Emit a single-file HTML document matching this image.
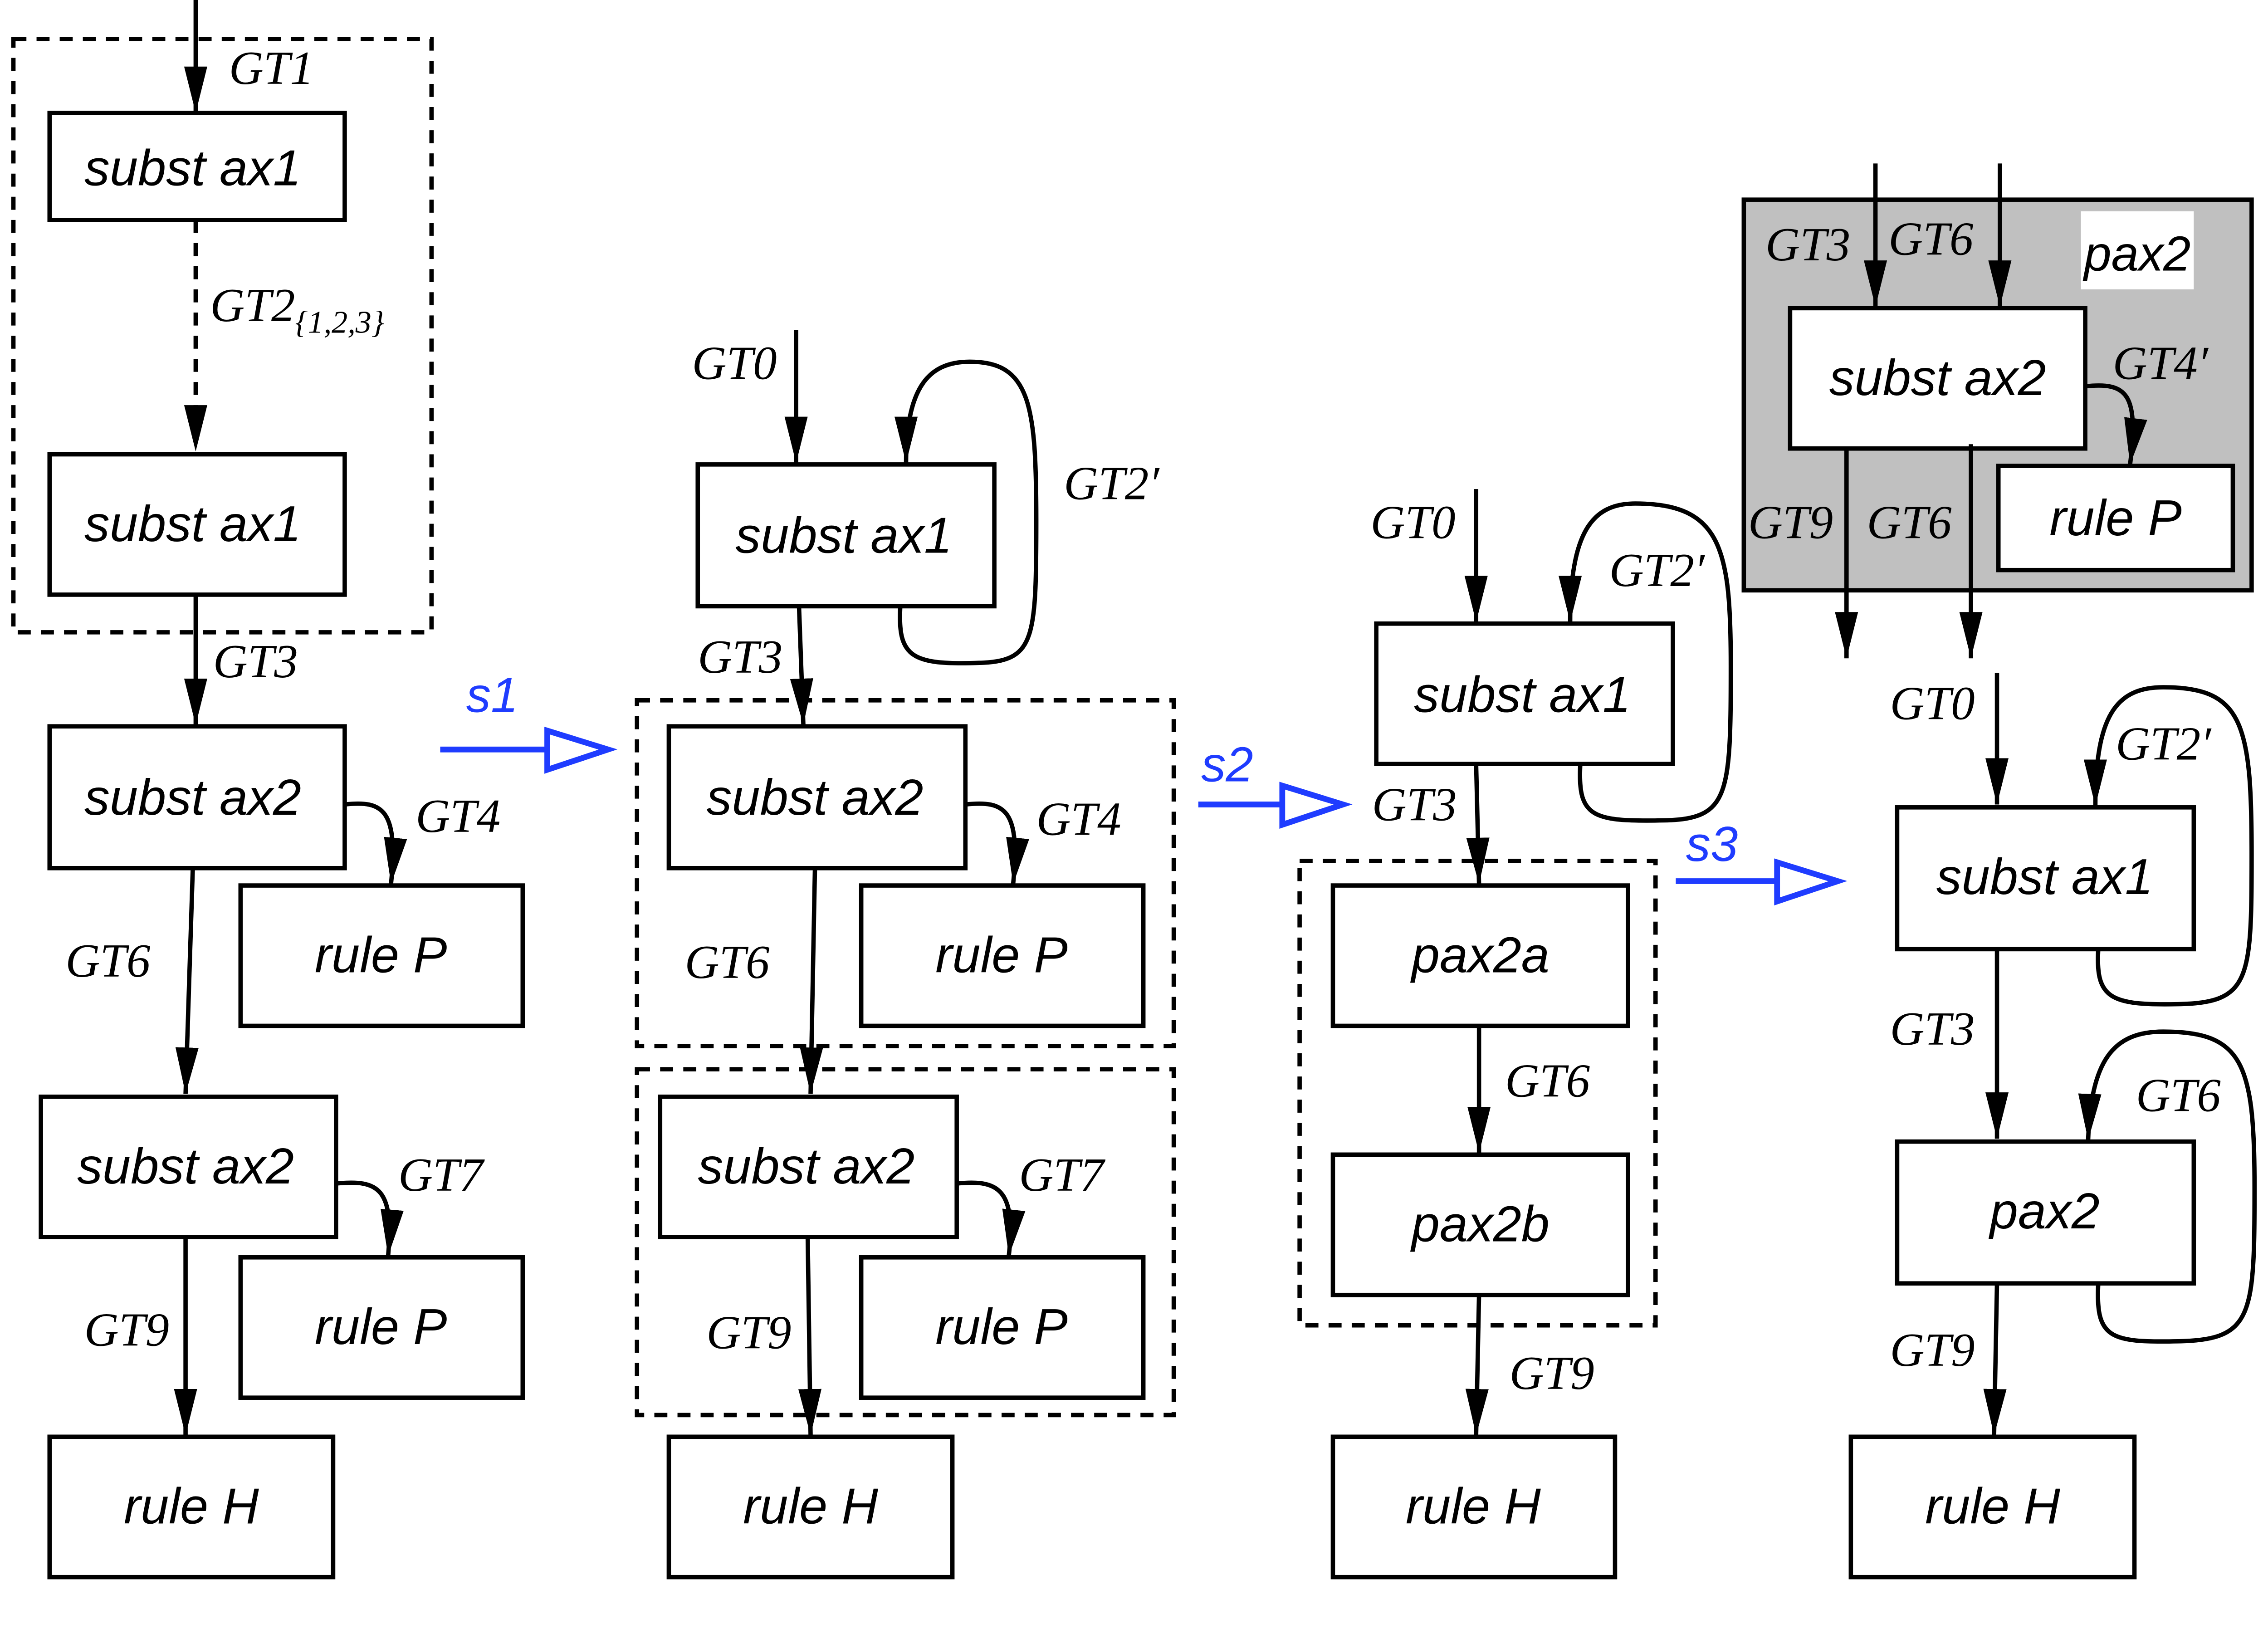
<!DOCTYPE html>
<html><head><meta charset="utf-8"><style>
html,body{margin:0;padding:0;background:#fff;overflow:hidden;}
svg{display:block;}
.b{fill:#fff;stroke:#000;stroke-width:3;}
.l{stroke:#000;stroke-width:3;fill:none;}
.d{stroke:#000;stroke-width:3;fill:none;stroke-dasharray:9,7;}
.t{font-family:"Liberation Sans",sans-serif;font-style:italic;font-size:35px;text-anchor:middle;}
.g{font-family:"Liberation Serif",serif;font-style:italic;font-size:33px;}
.s{font-family:"Liberation Sans",sans-serif;font-style:italic;font-size:34px;fill:#1f3cff;}
.bl{stroke:#1f3cff;stroke-width:4;fill:none;}
</style></head><body>
<svg width="5188" height="3633" viewBox="0 0 1626 1139" xmlns="http://www.w3.org/2000/svg">
<defs>
<marker id="h" markerWidth="32" markerHeight="16" refX="32" refY="8" orient="auto" markerUnits="userSpaceOnUse"><path d="M0,0 L32,8 L0,16 Z" fill="#000"/></marker></defs>

<!-- Column 1 -->
<rect class="d" x="9" y="27" width="289" height="410"/>
<line class="l" x1="135" y1="0" x2="135" y2="78" marker-end="url(#h)"/>
<text class="g" x="158" y="58">GT1</text>
<rect class="b" x="34" y="78" width="204" height="74"/><text class="t" x="133" y="128">subst ax1</text>
<line class="d" x1="135" y1="152" x2="135" y2="312" marker-end="url(#h)"/>
<text class="g" x="145" y="222">GT2<tspan font-size="22" dy="8">{1,2,3}</tspan></text>
<rect class="b" x="34" y="314" width="204" height="97"/><text class="t" x="133" y="374">subst ax1</text>
<line class="l" x1="135" y1="411" x2="135" y2="501" marker-end="url(#h)"/>
<text class="g" x="147" y="468">GT3</text>
<rect class="b" x="34" y="502" width="204" height="98"/><text class="t" x="133" y="563">subst ax2</text>
<path class="l" d="M238,556 C265,553 275,560 270,611" marker-end="url(#h)"/>
<text class="g" x="287" y="575">GT4</text>
<rect class="b" x="166" y="612" width="195" height="97"/><text class="t" x="263" y="672">rule P</text>
<line class="l" x1="133" y1="600" x2="128" y2="756" marker-end="url(#h)"/>
<text class="g" x="45" y="675">GT6</text>
<rect class="b" x="28" y="758" width="204" height="97"/><text class="t" x="128" y="818">subst ax2</text>
<path class="l" d="M232,818 C262,815 272,822 268,868" marker-end="url(#h)"/>
<text class="g" x="275" y="823">GT7</text>
<rect class="b" x="166" y="869" width="195" height="97"/><text class="t" x="263" y="929">rule P</text>
<line class="l" x1="128" y1="855" x2="128" y2="992" marker-end="url(#h)"/>
<text class="g" x="58" y="930">GT9</text>
<rect class="b" x="34" y="993" width="196" height="97"/><text class="t" x="132" y="1053">rule H</text>

<!-- s1 -->
<text class="s" x="322" y="492">s1</text>
<line class="bl" x1="304" y1="518" x2="378" y2="518"/>
<path class="bl" d="M378,505 L420,518 L378,532 Z" fill="#fff"/>

<!-- Column 2 -->
<line class="l" x1="550" y1="228" x2="550" y2="320" marker-end="url(#h)"/>
<text class="g" x="478" y="262">GT0</text>
<rect class="b" x="482" y="321" width="205" height="98"/><text class="t" x="583" y="382">subst ax1</text>
<path class="l" d="M622,419 C620,455 630,460 680,458 C715,456 716,440 716,360 C716,280 712,250 670,250 C640,250 626,270 626,320" marker-end="url(#h)"/>
<text class="g" x="735" y="345">GT2′</text>
<line class="l" x1="552" y1="419" x2="555" y2="501" marker-end="url(#h)"/>
<text class="g" x="482" y="465">GT3</text>
<rect class="d" x="440" y="484" width="371" height="239"/>
<rect class="b" x="462" y="502" width="205" height="98"/><text class="t" x="563" y="563">subst ax2</text>
<path class="l" d="M667,556 C695,553 705,560 700,611" marker-end="url(#h)"/>
<text class="g" x="716" y="577">GT4</text>
<rect class="b" x="595" y="612" width="195" height="97"/><text class="t" x="692" y="672">rule P</text>
<line class="l" x1="563" y1="600" x2="560" y2="756" marker-end="url(#h)"/>
<text class="g" x="473" y="676">GT6</text>
<rect class="d" x="440" y="739" width="371" height="239"/>
<rect class="b" x="456" y="758" width="205" height="97"/><text class="t" x="557" y="818">subst ax2</text>
<path class="l" d="M661,818 C690,815 702,822 697,868" marker-end="url(#h)"/>
<text class="g" x="704" y="823">GT7</text>
<rect class="b" x="595" y="869" width="195" height="97"/><text class="t" x="692" y="929">rule P</text>
<line class="l" x1="558" y1="855" x2="560" y2="992" marker-end="url(#h)"/>
<text class="g" x="488" y="932">GT9</text>
<rect class="b" x="462" y="993" width="196" height="97"/><text class="t" x="560" y="1053">rule H</text>

<!-- s2 -->
<text class="s" x="830" y="540">s2</text>
<line class="bl" x1="828" y1="556" x2="886" y2="556"/>
<path class="bl" d="M886,543 L928,556 L886,570 Z" fill="#fff"/>

<!-- Column 3 -->
<line class="l" x1="1020" y1="338" x2="1020" y2="430" marker-end="url(#h)"/>
<text class="g" x="947" y="372">GT0</text>
<rect class="b" x="951" y="431" width="205" height="97"/><text class="t" x="1052" y="492">subst ax1</text>
<path class="l" d="M1092,528 C1090,565 1100,568 1150,567 C1195,566 1196,550 1196,460 C1196,380 1190,348 1130,348 C1100,348 1085,368 1085,430" marker-end="url(#h)"/>
<text class="g" x="1112" y="405">GT2′</text>
<line class="l" x1="1020" y1="528" x2="1022" y2="611" marker-end="url(#h)"/>
<text class="g" x="948" y="567">GT3</text>
<rect class="d" x="898" y="595" width="246" height="321"/>
<rect class="b" x="921" y="612" width="204" height="97"/><text class="t" x="1023" y="672">pax2a</text>
<line class="l" x1="1022" y1="709" x2="1022" y2="797" marker-end="url(#h)"/>
<text class="g" x="1040" y="758">GT6</text>
<rect class="b" x="921" y="798" width="204" height="97"/><text class="t" x="1023" y="858">pax2b</text>
<line class="l" x1="1022" y1="895" x2="1020" y2="992" marker-end="url(#h)"/>
<text class="g" x="1043" y="960">GT9</text>
<rect class="b" x="921" y="993" width="195" height="97"/><text class="t" x="1018" y="1053">rule H</text>

<!-- s3 -->
<text class="s" x="1165" y="595">s3</text>
<line class="bl" x1="1158" y1="609" x2="1228" y2="609"/>
<path class="bl" d="M1228,596 L1270,609 L1228,623 Z" fill="#fff"/>

<!-- Column 4 -->
<rect x="1205" y="138" width="351" height="270" fill="#c0c0c0" stroke="#000" stroke-width="3"/>
<rect x="1438" y="146" width="78" height="54" fill="#fff"/>
<text class="t" x="1477" y="187" style="font-size:34px">pax2</text>
<text class="g" x="1220" y="180">GT3</text>
<text class="g" x="1305" y="176">GT6</text>
<line class="l" x1="1296" y1="113" x2="1296" y2="212" marker-end="url(#h)"/>
<line class="l" x1="1382" y1="113" x2="1382" y2="212" marker-end="url(#h)"/>
<rect class="b" x="1237" y="213" width="204" height="97"/><text class="t" x="1339" y="273">subst ax2</text>
<path class="l" d="M1441,267 C1470,264 1478,272 1472,321" marker-end="url(#h)"/>
<text class="g" x="1460" y="262">GT4′</text>
<rect class="b" x="1381" y="322" width="162" height="72"/><text class="t" x="1462" y="370">rule P</text>
<line class="l" x1="1276" y1="310" x2="1276" y2="455" marker-end="url(#h)"/>
<line class="l" x1="1362" y1="307" x2="1362" y2="455" marker-end="url(#h)"/>
<text class="g" x="1208" y="372">GT9</text>
<text class="g" x="1290" y="372">GT6</text>
<line class="l" x1="1380" y1="465" x2="1380" y2="556" marker-end="url(#h)"/>
<text class="g" x="1306" y="497">GT0</text>
<rect class="b" x="1311" y="558" width="205" height="98"/><text class="t" x="1413" y="618">subst ax1</text>
<path class="l" d="M1450,656 C1448,690 1458,695 1505,694 C1555,693 1556,678 1556,590 C1556,500 1550,475 1495,475 C1462,475 1448,495 1448,557" marker-end="url(#h)"/>
<text class="g" x="1462" y="525">GT2′</text>
<line class="l" x1="1380" y1="656" x2="1380" y2="787" marker-end="url(#h)"/>
<text class="g" x="1306" y="722">GT3</text>
<rect class="b" x="1311" y="789" width="205" height="98"/><text class="t" x="1413" y="849">pax2</text>
<path class="l" d="M1450,887 C1448,925 1458,928 1505,927 C1557,926 1558,910 1558,820 C1558,735 1550,713 1495,713 C1460,713 1445,733 1443,788" marker-end="url(#h)"/>
<text class="g" x="1476" y="768">GT6</text>
<line class="l" x1="1380" y1="887" x2="1378" y2="992" marker-end="url(#h)"/>
<text class="g" x="1306" y="944">GT9</text>
<rect class="b" x="1279" y="993" width="196" height="97"/><text class="t" x="1377" y="1053">rule H</text>
</svg>
</body></html>
